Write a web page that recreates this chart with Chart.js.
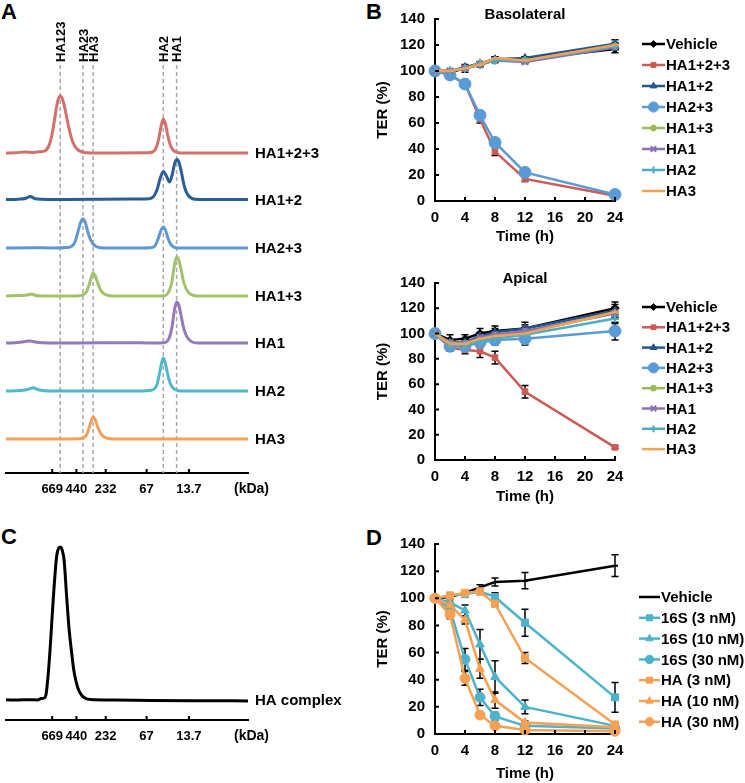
<!DOCTYPE html>
<html>
<head>
<meta charset="utf-8">
<script src="https://cdn.jsdelivr.net/npm/chart.js@4.4.1/dist/chart.umd.min.js"></script>
<style>
  body { margin: 0; background: #fff; width: 745px; height: 783px; position: relative; overflow: hidden;
         font-family: 'Liberation Sans', Arial, sans-serif; }
  canvas { position: absolute; }
  .lt { position: absolute; font-weight: bold; font-size: 22px; line-height: 1; }
</style>
</head>
<body>
<div class="lt" style="left:1px;top:1px">A</div>
<div class="lt" style="left:366px;top:1px">B</div>
<div class="lt" style="left:1px;top:526px">C</div>
<div class="lt" style="left:366px;top:527px">D</div>

<canvas id="gel" width="372" height="510" style="left:0;top:0"></canvas>
<canvas id="cplx" width="372" height="273" style="left:0;top:510px"></canvas>
<canvas id="baso" width="373" height="250" style="left:372px;top:0"></canvas>
<canvas id="apic" width="373" height="260" style="left:372px;top:250px"></canvas>
<canvas id="dose" width="373" height="268" style="left:372px;top:515px"></canvas>

<script>
// ---- panel A / C : gel filtration (x = elution position, a.u.) ----
const kdaLabels = ['669', '440', '232', '67', '13.7'];
const kdaPos = [19.1, 29.1, 41.2, 58.1, 75.6];
const bandNames = ['HA123', 'HA23', 'HA3', 'HA2', 'HA1'];
const bandPos = [22.4, 31.8, 36.0, 65.0, 70.5];

const traceNames = ['HA1+2+3', 'HA1+2', 'HA2+3', 'HA1+3', 'HA1', 'HA2', 'HA3'];
const traceHA123 = [[0,0],[4,0.3],[8,1],[11,0.5],[14,1.2],[16,2],[17.5,6],[18.7,15],[19.7,28],[20.6,42],[21.5,53],[22.4,57],[23.3,54],[24.3,45],[25.3,33],[26.3,22],[27.3,13],[28.5,6.5],[29.8,3],[31.5,1],[33,0.3],[45,0],[58,0.2],[60.5,1],[61.8,4],[63,13],[64.1,27],[65,34],[65.9,29],[66.8,18],[67.9,8],[69,3],[70.5,0.8],[72,0],[85,0],[100,0]];
const traceHA12 = [[0,0],[5,0.3],[8,1],[10,3],[12,0.8],[15,0.3],[25,0],[40,0.2],[55,0.5],[59,0.8],[60.8,2.5],[62.3,9],[63.7,21],[65,28],[66.2,24],[67.6,17.5],[68.7,25],[69.7,36],[70.6,40],[71.5,37],[72.5,27],[73.6,14],[74.8,6],[76.2,2],[78,0.3],[90,0],[100,0]];
const traceHA23 = [[0,0],[10,0.3],[20,0],[25,0.5],[27,1.5],[28.5,6],[29.7,16],[30.9,26],[31.8,29],[32.7,26],[33.7,17],[34.8,9],[36,4],[37.3,1.5],[39,0.3],[45,0],[55,0],[60.5,0.5],[61.8,3],[63,10],[64.1,18],[65,21],[65.9,18],[66.9,10],[68,4],[69.3,1],[71,0],[85,0],[100,0]];
const traceHA13 = [[0,0],[5,0.5],[9,1],[10.5,2],[12,0.8],[15,0],[25,0],[30,0.3],[32,1.5],[33.2,4],[34.3,11],[35.3,19],[36,23],[36.9,20],[37.9,13],[39,6.5],[40.3,2.5],[42,0.7],[44,0],[60,0],[65,0.3],[66.5,1.5],[67.6,6],[68.6,15],[69.6,31],[70.5,39],[71.4,36],[72.3,27],[73.3,15],[74.4,7.5],[75.6,3],[77,1],[79,0],[100,0]];
const traceHA1 = [[0,0],[5,0.5],[8,1.5],[10,2],[12,1],[15,0.3],[30,0],[50,0.3],[60,0],[65,0.3],[66.5,1.5],[67.6,6],[68.6,16],[69.6,33],[70.5,41],[71.4,38],[72.3,28],[73.3,16],[74.4,8],[75.6,3.5],[77,1],[79,0],[100,0]];
const traceHA2 = [[0,0],[6,0.5],[9,1.5],[11.2,3.3],[13,1.5],[15,0.5],[20,0],[50,0],[58,0.3],[60,0.8],[61.2,2],[62.3,6],[63.4,17],[64.2,27],[65,33],[65.8,28],[66.7,18],[67.8,8],[69,3],[70.5,0.8],[72,0],[100,0]];
const traceHA3 = [[0,0],[20,0],[30,0.2],[32,1.2],[33,3],[34.2,10],[35.2,18],[36,22],[36.9,19],[37.9,12],[39,6],[40.3,2.5],[42,0.7],[44,0],[100,0]];
const traceOffset = [320, 273.5, 225, 177, 130, 82, 34];
const traceColors = ['#d4706a', '#2a5f96', '#5f98d1', '#a3c36b', '#9479bb', '#4fb8cc', '#f5a05a'];

const complexTrace = [[0,20.2],[5,20],[10,20.3],[13,20],[14.5,21.5],[15.8,22],[16.5,25],[17.3,42],[18.2,70],[19.5,120],[20.9,163],[21.8,172],[22.5,173],[23.2,170],[24,160],[25.1,122],[26.1,90],[27.1,68],[28,50],[29,38],[30,30],[31.2,25],[32.6,22],[35,20.5],[45,20],[60,19.6],[80,19.3],[100,19.1]];

// ---- panel B / D : TER time course ----
const timeH = [0, 2, 4, 6, 8, 12, 24];
const groupNames = ['Vehicle', 'HA1+2+3', 'HA1+2', 'HA2+3', 'HA1+3', 'HA1', 'HA2', 'HA3'];

const basoVehicle = [100, 99, 102, 105, 109, 109, 117];
const basoHA123 = [100, 97, 90, 63, 38, 17, 4];
const basoHA12 = [100, 100, 103, 106, 109, 110, 121];
const basoHA23 = [100, 97, 90, 66, 45, 22, 5];
const basoHA13 = [100, 100, 102, 106, 108, 108, 119];
const basoHA1 = [100, 100, 102, 105, 108, 107, 118];
const basoHA2 = [100, 100, 102, 105, 108, 108, 119];
const basoHA3 = [100, 100, 102, 105, 110, 108, 120];
const basoErr = [
  [0, 1, 3, 2, 2, 2, 3], [0, 1, 1, 3, 3, 2, 1], [0, 1, 1, 1, 1, 1, 3], [0, 1, 1, 3, 3, 3, 1],
  [0, 1, 1, 1, 1, 1, 2], [0, 1, 1, 1, 1, 1, 2], [0, 1, 1, 1, 1, 1, 2], [0, 1, 1, 1, 1, 1, 2]
];

const apicVehicle = [100, 95, 96, 100, 102, 104, 120];
const apicHA123 = [100, 89, 87, 86, 81, 54, 10];
const apicHA12 = [100, 93, 93, 98, 101, 104, 118];
const apicHA23 = [100, 90, 90, 93, 95, 96, 102];
const apicHA13 = [100, 92, 91, 95, 98, 101, 116];
const apicHA1 = [100, 93, 92, 97, 99, 102, 116];
const apicHA2 = [100, 92, 91, 94, 96, 99, 112];
const apicHA3 = [100, 92, 92, 96, 98, 100, 117];
const apicErr = [
  [0, 4, 3, 4, 4, 5, 5], [0, 3, 3, 5, 5, 5, 1], [0, 2, 2, 3, 3, 3, 5], [0, 3, 3, 4, 4, 5, 7],
  [0, 2, 2, 3, 3, 3, 4], [0, 2, 2, 3, 3, 3, 4], [0, 2, 2, 3, 3, 3, 4], [0, 2, 2, 3, 3, 3, 4]
];

const doseNames = ['Vehicle', '16S (3 nM)', '16S (10 nM)', '16S (30 nM)', 'HA (3 nM)', 'HA (10 nM)', 'HA (30 nM)'];
const doseVehicle = [100, 101, 104, 108, 112, 113, 124];
const dose16S3 = [100, 102, 103, 105, 101, 82, 27];
const dose16S10 = [100, 97, 91, 66, 42, 20, 6];
const dose16S30 = [100, 92, 55, 27, 13, 6, 4];
const doseHA3 = [100, 102, 104, 105, 96, 56, 7];
const doseHA10 = [100, 95, 84, 48, 25, 8.5, 5];
const doseHA30 = [100, 88, 41, 14, 6, 3, 2];
const doseErr = [
  [0, 1, 1, 2, 3, 6, 8], [0, 1, 1, 1, 3, 10, 11], [0, 2, 4, 11, 12, 5, 1], [0, 2, 8, 6, 3, 1, 1],
  [0, 1, 1, 1, 2, 4, 1], [0, 2, 3, 7, 6, 1, 1], [0, 3, 5, 2, 1, 1, 1]
];

const FONT = "'Liberation Sans', Arial, sans-serif";
Chart.defaults.font.family = FONT;
Chart.defaults.color = '#000';

// draws inward tick marks along the axes
const inTicks = {
  id: 'inTicks',
  afterDraw(chart, args, o) {
    if (!o.show) return;
    const { ctx, chartArea, scales } = chart;
    ctx.save();
    ctx.strokeStyle = '#000';
    ctx.lineWidth = 2;
    ctx.beginPath();
    scales.x.ticks.forEach(t => {
      const px = scales.x.getPixelForValue(t.value);
      ctx.moveTo(px, chartArea.bottom);
      ctx.lineTo(px, chartArea.bottom - o.len);
    });
    if (o.y) {
      scales.y.ticks.forEach(t => {
        const py = scales.y.getPixelForValue(t.value);
        ctx.moveTo(chartArea.left, py);
        ctx.lineTo(chartArea.left + o.len, py);
      });
    }
    ctx.stroke();
    ctx.restore();
  }
};

// dashed marker lines, band names and trace names for the gel panels
const gelMarks = {
  id: 'gelMarks',
  beforeDatasetsDraw(chart, args, o) {
    if (!o.bands) return;
    const { ctx, chartArea, scales: { x } } = chart;
    ctx.save();
    ctx.strokeStyle = '#a8a8a8';
    ctx.lineWidth = 1.5;
    ctx.setLineDash([4, 3]);
    bandPos.forEach(v => {
      const px = x.getPixelForValue(v);
      ctx.beginPath();
      ctx.moveTo(px, chartArea.top);
      ctx.lineTo(px, chartArea.bottom);
      ctx.stroke();
    });
    ctx.restore();
  },
  afterDraw(chart, args, o) {
    const { ctx, chartArea, scales: { x, y } } = chart;
    ctx.save();
    ctx.fillStyle = '#000';
    if (o.bands) {
      ctx.font = 'bold 13px ' + FONT;
      ctx.textAlign = 'left';
      ctx.textBaseline = 'alphabetic';
      bandPos.forEach((v, i) => {
        ctx.save();
        ctx.translate(x.getPixelForValue(v), chartArea.top - 3);
        ctx.rotate(-Math.PI / 2);
        ctx.fillText(bandNames[i], 0, 4.7);
        ctx.restore();
      });
    }
    ctx.font = o.nameFont;
    ctx.textAlign = 'left';
    ctx.textBaseline = 'middle';
    o.names.forEach((n, i) => {
      ctx.fillText(n, chartArea.right + 7, y.getPixelForValue(o.levels[i]) + 1);
    });
    ctx.font = 'bold 14px ' + FONT;
    ctx.fillText('(kDa)', chartArea.right - 14, chartArea.bottom + o.kdaDy);
    ctx.restore();
  }
};

// error bars (drawn under lines and markers)
const errorBars = {
  id: 'errorBars',
  beforeDatasetsDraw(chart) {
    const { ctx, scales: { x, y } } = chart;
    ctx.save();
    ctx.strokeStyle = '#000';
    ctx.lineWidth = 1.5;
    chart.data.datasets.forEach(ds => {
      if (!ds.err) return;
      ds.data.forEach((p, i) => {
        const e = ds.err[i];
        if (!e) return;
        const px = x.getPixelForValue(p.x);
        const t = y.getPixelForValue(p.y + e), b = y.getPixelForValue(p.y - e);
        ctx.beginPath();
        ctx.moveTo(px, t); ctx.lineTo(px, b);
        ctx.moveTo(px - 3.5, t); ctx.lineTo(px + 3.5, t);
        ctx.moveTo(px - 3.5, b); ctx.lineTo(px + 3.5, b);
        ctx.stroke();
      });
    });
    ctx.restore();
  }
};

// legend with line + marker, like the spreadsheet original; also the panel title
const lineLegend = {
  id: 'lineLegend',
  afterDraw(chart, args, o) {
    const { ctx, chartArea } = chart;
    ctx.save();
    ctx.font = 'bold 15px ' + FONT;
    ctx.textBaseline = 'middle';
    if (o.title) {
      ctx.fillStyle = '#000';
      ctx.textAlign = 'center';
      ctx.fillText(o.title, (chartArea.left + chartArea.right) / 2, chartArea.top + o.titleDy);
    }
    ctx.textAlign = 'left';
    chart.data.datasets.forEach((ds, i) => {
      const yy = chartArea.top + o.dy + i * o.gap;
      const x0 = chartArea.right + o.dx;
      ctx.strokeStyle = ds.borderColor;
      ctx.lineWidth = 2.5;
      ctx.beginPath();
      ctx.moveTo(x0, yy);
      ctx.lineTo(x0 + o.len, yy);
      ctx.stroke();
      if (ds.pointRadius > 0) {
        ctx.fillStyle = ds.pointBackgroundColor;
        ctx.strokeStyle = ds.pointBorderColor;
        ctx.lineWidth = ds.pointBorderWidth;
        Chart.helpers.drawPoint(ctx, { pointStyle: ds.pointStyle, radius: ds.pointRadius * 0.85, rotation: 0, borderWidth: ds.pointBorderWidth }, x0 + o.len / 2, yy);
      }
      ctx.fillStyle = '#000';
      ctx.fillText(ds.label, x0 + o.len + 1, yy + 1);
    });
    ctx.restore();
  }
};

function gelChart(id, traces, names, colors, levels, labelLevels, ymax, padTop, axisH, nameFont, bands) {
  return new Chart(document.getElementById(id), {
    type: 'line',
    data: {
      datasets: traces.map((tr, i) => ({
        label: names[i],
        data: tr.map(p => ({ x: p[0], y: p[1] + levels[i] })),
        borderColor: colors[i],
        borderWidth: 3,
        pointRadius: 0,
        cubicInterpolationMode: 'monotone',
        fill: false
      }))
    },
    options: {
      responsive: false, animation: false, events: [], devicePixelRatio: 1,
      layout: { padding: { left: 6, right: 124, top: padTop, bottom: 0 } },
      plugins: { legend: { display: false }, tooltip: { enabled: false },
        gelMarks: { bands: bands, names: names, levels: labelLevels, nameFont: nameFont, kdaDy: 16 },
        inTicks: { show: true, len: 4, y: false } },
      scales: {
        x: {
          type: 'linear', min: 0, max: 100,
          afterBuildTicks: s => { s.ticks = kdaPos.map(v => ({ value: v })); },
          afterFit: s => { s.height = axisH; },
          ticks: { autoSkip: false, maxRotation: 0, padding: 9, color: '#000',
                   font: { size: 13, weight: 'bold' }, callback: (v, i) => kdaLabels[i] },
          grid: { display: false, drawTicks: false },
          border: { display: true, color: '#000', width: 2 }
        },
        y: { display: false, min: 0, max: ymax }
      }
    },
    plugins: [gelMarks, inTicks]
  });
}

gelChart('gel', [traceHA123, traceHA12, traceHA23, traceHA13, traceHA1, traceHA2, traceHA3],
  traceNames, traceColors, traceOffset, traceOffset, 408, 65, 37, 'bold 15px ' + FONT, true);
gelChart('cplx', [complexTrace], ['HA complex'], ['#000'], [0], [20], 180, 30, 63, 'bold 15px ' + FONT, false);

function terChart(id, names, series, errs, colors, styles, radii, legendOpts, padTop, axisH, titlePadB) {
  const n = series.length;
  return new Chart(document.getElementById(id), {
    type: 'line',
    data: {
      datasets: series.map((s, i) => ({
        label: names[i],
        data: s.map((v, j) => ({ x: timeH[j], y: v })),
        err: errs[i],
        borderColor: colors[i],
        borderWidth: 2.5,
        pointStyle: styles[i],
        pointRadius: radii[i],
        pointBackgroundColor: colors[i],
        pointBorderColor: colors[i],
        pointBorderWidth: ['star', 'cross', 'crossRot', 'dash', 'line'].includes(styles[i]) ? 2 : 1,
        tension: 0,
        clip: false,
        order: n - i
      }))
    },
    options: {
      responsive: false, animation: false, events: [], devicePixelRatio: 1,
      layout: { padding: { left: 0, right: 130, top: padTop, bottom: 0 } },
      plugins: { legend: { display: false }, tooltip: { enabled: false },
        lineLegend: legendOpts, inTicks: { show: true, len: 4, y: true } },
      scales: {
        x: {
          type: 'linear', min: 0, max: 24,
          afterFit: s => { s.height = axisH; },
          ticks: { stepSize: 4, padding: 8, color: '#000', font: { size: 15, weight: 'bold' } },
          grid: { display: false, drawTicks: false },
          border: { display: true, color: '#000', width: 2 },
          title: { display: true, text: 'Time (h)', color: '#000', font: { size: 15, weight: 'bold' },
                   padding: { top: 0, bottom: titlePadB } }
        },
        y: {
          type: 'linear', min: 0, max: 140,
          afterFit: s => { s.width = 63; },
          ticks: { stepSize: 20, padding: 10, color: '#000', font: { size: 15, weight: 'bold' } },
          grid: { display: false, drawTicks: false },
          border: { display: true, color: '#000', width: 2 },
          title: { display: true, text: 'TER (%)', color: '#000', font: { size: 15, weight: 'bold' },
                   padding: { top: 2, bottom: 0 } }
        }
      }
    },
    plugins: [errorBars, lineLegend, inTicks]
  });
}

const groupColors = ['#000000', '#cc5b55', '#23568c', '#5b9bd5', '#9bbb59', '#8a70b0', '#4bacc6', '#f7a04e'];
const groupStyles = ['rectRot', 'rect', 'triangle', 'circle', 'star', 'crossRot', 'cross', 'dash'];
const groupRadii = [4, 4, 4.5, 6, 4, 4.5, 4, 4];

terChart('baso', groupNames,
  [basoVehicle, basoHA123, basoHA12, basoHA23, basoHA13, basoHA1, basoHA2, basoHA3], basoErr,
  groupColors, groupStyles, groupRadii,
  { title: 'Basolateral', titleDy: -4, dx: 27, dy: 25, gap: 21, len: 23 }, 17, 49, 4);

terChart('apic', groupNames,
  [apicVehicle, apicHA123, apicHA12, apicHA23, apicHA13, apicHA1, apicHA2, apicHA3], apicErr,
  groupColors, groupStyles, groupRadii,
  { title: 'Apical', titleDy: -4, dx: 27, dy: 24, gap: 20.3, len: 23 }, 33, 50, 4);

const doseColors = ['#000000', '#4db3cb', '#4db3cb', '#4db3cb', '#f7a052', '#f7a052', '#f7a052'];
const doseStyles = ['dash', 'rect', 'triangle', 'circle', 'rect', 'triangle', 'circle'];
const doseRadii = [3, 5, 5, 5, 5, 5, 5];

terChart('dose', doseNames,
  [doseVehicle, dose16S3, dose16S10, dose16S30, doseHA3, doseHA10, doseHA30], doseErr,
  doseColors, doseStyles, doseRadii,
  { title: '', titleDy: 0, dx: 24, dy: 53, gap: 20.8, len: 21 }, 29, 49, 0);
</script>
</body>
</html>
